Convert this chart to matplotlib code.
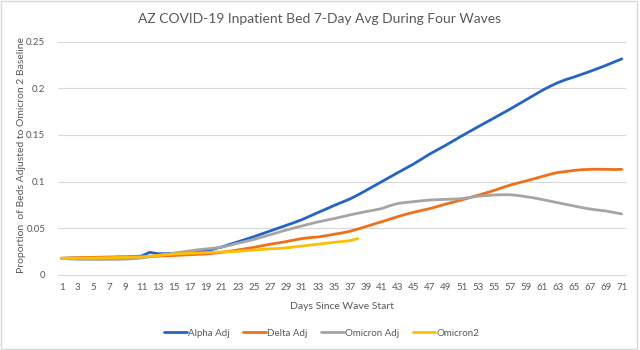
import matplotlib
matplotlib.use("Agg")
import matplotlib.pyplot as plt
from matplotlib.patches import Rectangle

days = list(range(1, 72))
alpha_adj = [0.0179, 0.0181, 0.0183, 0.0184, 0.0185, 0.0186, 0.0188, 0.0190, 0.0192, 0.0196,
             0.0204, 0.0243, 0.0228, 0.0228, 0.0232, 0.0238, 0.0245, 0.0252, 0.0260, 0.0278,
             0.0300, 0.0328, 0.0355, 0.0382, 0.0410, 0.0440, 0.0470, 0.0500, 0.0530, 0.0560,
             0.0592, 0.0630, 0.0668, 0.0705, 0.0743, 0.0778, 0.0814, 0.0857, 0.0904, 0.0952,
             0.1000, 0.1048, 0.1096, 0.1143, 0.1190, 0.1243, 0.1296, 0.1343, 0.1390, 0.1440,
             0.1490, 0.1538, 0.1586, 0.1633, 0.1680, 0.1728, 0.1775, 0.1825, 0.1875, 0.1925,
             0.1975, 0.2020, 0.2060, 0.2093, 0.2120, 0.2150, 0.2180, 0.2212, 0.2245, 0.2280,
             0.2315]
delta_adj = [0.0179, 0.0182, 0.0185, 0.0187, 0.0189, 0.0191, 0.0193, 0.0195, 0.0195, 0.0196,
             0.0196, 0.0199, 0.0202, 0.0205, 0.0209, 0.0213, 0.0217, 0.0221, 0.0225, 0.0233,
             0.0243, 0.0255, 0.0268, 0.0282, 0.0296, 0.0312, 0.0329, 0.0343, 0.0357, 0.0374,
             0.0390, 0.0400, 0.0407, 0.0420, 0.0436, 0.0450, 0.0468, 0.0492, 0.0518, 0.0545,
             0.0571, 0.0598, 0.0625, 0.0650, 0.0672, 0.0692, 0.0711, 0.0735, 0.0760, 0.0782,
             0.0804, 0.0829, 0.0854, 0.0879, 0.0904, 0.0934, 0.0962, 0.0985, 0.1007, 0.1030,
             0.1054, 0.1078, 0.1098, 0.1108, 0.1120, 0.1128, 0.1132, 0.1133, 0.1132, 0.1130,
             0.1132]
omicron_adj = [0.0179, 0.0172, 0.0168, 0.0167, 0.0167, 0.0167, 0.0168, 0.0168, 0.0170, 0.0175,
               0.0183, 0.0195, 0.0208, 0.0220, 0.0232, 0.0246, 0.0258, 0.0270, 0.0279, 0.0287,
               0.0298, 0.0318, 0.0340, 0.0360, 0.0380, 0.0405, 0.0430, 0.0455, 0.0480, 0.0503,
               0.0525, 0.0547, 0.0568, 0.0586, 0.0604, 0.0623, 0.0643, 0.0661, 0.0679, 0.0694,
               0.0712, 0.0742, 0.0766, 0.0777, 0.0786, 0.0795, 0.0803, 0.0807, 0.0810, 0.0813,
               0.0818, 0.0831, 0.0843, 0.0851, 0.0857, 0.0860, 0.0860, 0.0852, 0.0840, 0.0826,
               0.0810, 0.0792, 0.0775, 0.0757, 0.0740, 0.0723, 0.0707, 0.0696, 0.0686, 0.0670,
               0.0654]
omicron2 = [0.0179, 0.0180, 0.0181, 0.0181, 0.0182, 0.0184, 0.0186, 0.0188, 0.0190, 0.0191,
            0.0193, 0.0201, 0.0210, 0.0218, 0.0225, 0.0229, 0.0232, 0.0236, 0.0240, 0.0243,
            0.0246, 0.0250, 0.0254, 0.0261, 0.0268, 0.0275, 0.0280, 0.0284, 0.0290, 0.0300,
            0.0310, 0.0320, 0.0329, 0.0340, 0.0350, 0.0358, 0.0368, 0.0390]

series_names = ["Alpha Adj", "Delta Adj", "Omicron Adj", "Omicron2"]
colors = ["#2464C4", "#EF7018", "#A5A5A5", "#FFBE00"]
y_ticks = [0, 0.05, 0.1, 0.15, 0.2, 0.25]
y_tick_labels = ["0", "0.05", "0.1", "0.15", "0.2", "0.25"]
x_ticks = list(range(1, 72, 2))

plt.rcParams['font.family'] = ['Lato', 'DejaVu Sans']
txt = "#595959"

fig = plt.figure(figsize=(6.4, 3.5), dpi=100)
ax = fig.add_axes([0.0902, 0.2143, 0.9777 - 0.0902, 0.881 - 0.2143])

all_series = [alpha_adj, delta_adj, omicron_adj, omicron2]
for name, vals, c in zip(series_names, all_series, colors):
    ax.plot(days[:len(vals)], vals, color=c, lw=2.0, label=name,
            solid_joinstyle='round', solid_capstyle='round')

ax.set_xlim(0.5, 71.5)
ax.set_ylim(0, 0.25)
ax.set_yticks(y_ticks)
ax.set_yticklabels(y_tick_labels)
ax.set_xticks(x_ticks)
ax.set_xticklabels([str(d) for d in x_ticks])
ax.tick_params(axis='both', length=0, labelsize=7, colors=txt)
ax.tick_params(axis='y', pad=9)
ax.tick_params(axis='x', pad=6)
ax.grid(axis='y', color='#D9D9D9', lw=0.8)
ax.set_axisbelow(True)
for s in ['top', 'right', 'left']:
    ax.spines[s].set_visible(False)
ax.spines['bottom'].set_color('#D9D9D9')
ax.spines['bottom'].set_linewidth(0.8)

ax.set_xlabel("Days Since Wave Start", fontsize=7.5, color=txt, labelpad=7)
fig.text(0.033, (0.881 + 0.2143) / 2 + 0.01, "Proportion  of Beds Adjusted to Omicron 2 Baseline",
         rotation=90, ha='center', va='center', fontsize=7.5, color=txt)
fig.text(0.5, 1 - 19 / 350, "AZ COVID-19 Inpatient Bed 7-Day Avg During Four Waves",
         ha='center', va='center', fontsize=10, color=txt)

fig.legend(loc='center', bbox_to_anchor=(0.503, 1 - 333 / 350), ncol=4, frameon=False,
           fontsize=7, labelcolor=txt, handlelength=2.3, handletextpad=0.15, columnspacing=1.4)

fig.patches.append(Rectangle((0.002, 0.004), 0.994, 0.993, transform=fig.transFigure,
                             fill=False, edgecolor='#D9D9D9', lw=1))

fig.savefig("out.png", dpi=100)
